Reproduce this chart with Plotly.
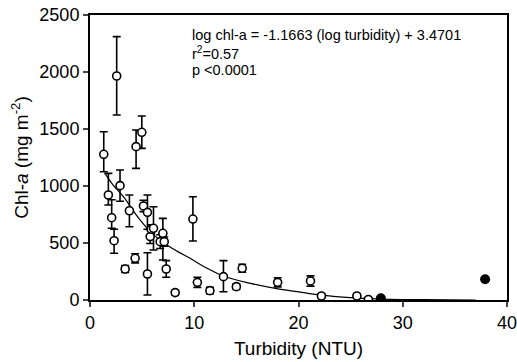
import plotly.graph_objects as go

# Open-circle observations
turbidity = [1.32, 2.56, 1.76, 2.08, 2.31, 2.88, 3.37, 3.78, 4.33, 4.42, 4.97, 5.13, 5.51, 5.51,
             5.77, 5.87, 6.09, 6.73, 6.99, 7.12, 7.31, 8.17, 9.87, 10.3, 11.5, 12.8, 14.04, 14.6,
             18.0, 21.15, 22.2, 25.6, 26.7]
chla = [1278, 1965, 921, 722, 520, 1003, 272, 783, 366, 1345, 1471, 825, 769, 228,
        556, 620, 629, 512, 585, 512, 272, 65, 710, 155, 82, 205, 117, 278,
        155, 167, 35, 35, 5]
err_plus = [198, 345, 190, 158, 100, 137, 30, 138, 40, 146, 143, 50, 152, 187,
            60, 40, 189, 60, 131, 40, 73, 20, 196, 44, 30, 140, 25, 35,
            40, 45, 20, 20, 10]
err_minus = [153, 342, 88, 92, 110, 137, 30, 140, 40, 190, 141, 50, 149, 184,
             60, 40, 191, 60, 234, 40, 73, 20, 192, 44, 30, 132, 25, 35,
             40, 45, 20, 20, 10]

# Filled observations
turb_filled = [27.9, 37.9]
chla_filled = [15, 182]

# Fitted curve
curve_x = [1.44, 2.2, 3.2, 4.8, 6.0, 7.4, 8.5, 9.6, 11.0, 12.8, 15.4, 17.9, 19.9, 21.8, 25.3, 28.0, 32.0, 37.0]
curve_y = [1111, 1010, 906, 702, 580, 482, 420, 366, 290, 210, 146, 100, 73, 48, 18, 8, 3, 0]

x_ticks = [0, 10, 20, 30, 40]
y_ticks = [0, 500, 1000, 1500, 2000, 2500]

stats_lines = ["log chl-a = -1.1663 (log turbidity) + 3.4701",
               "r<sup>2</sup>=0.57",
               "p &lt;0.0001"]

FONT = "Liberation Sans, Arial, sans-serif"

fig = go.Figure()
fig.add_trace(go.Scatter(x=curve_x, y=curve_y, mode="lines",
                         line=dict(color="black", width=1.2, shape="spline"),
                         hoverinfo="skip", showlegend=False))
fig.add_trace(go.Scatter(
    x=turbidity, y=chla, mode="markers",
    marker=dict(symbol="circle", size=8, color="white", line=dict(color="black", width=1.6)),
    error_y=dict(type="data", array=err_plus, arrayminus=err_minus, color="black",
                 thickness=1.6, width=4),
    showlegend=False))
fig.add_trace(go.Scatter(
    x=turb_filled, y=chla_filled, mode="markers",
    marker=dict(symbol="circle", size=10, color="black"),
    showlegend=False))

for txt, yy in zip(stats_lines, [0.930, 0.868, 0.806]):
    fig.add_annotation(
        xref="paper", yref="paper", x=0.24, y=yy, xanchor="left", yanchor="middle",
        align="left", showarrow=False, text=txt,
        font=dict(family=FONT, size=14.5, color="black"))

fig.update_layout(
    width=517, height=362,
    margin=dict(l=90, r=10, t=15, b=62),
    paper_bgcolor="white", plot_bgcolor="white",
    font=dict(family=FONT, color="black"),
    xaxis=dict(range=[0, 40], tickvals=x_ticks, ticks="outside", ticklen=5, tickwidth=1.5,
               showline=True, linecolor="black", linewidth=2, mirror=True, showgrid=False,
               zeroline=False, automargin=False, ticklabeloverflow="allow",
               tickfont=dict(size=18, family=FONT),
               title=dict(text="Turbidity (NTU)", font=dict(size=19, family=FONT), standoff=10)),
    yaxis=dict(range=[0, 2500], tickvals=y_ticks, ticks="outside", ticklen=5, tickwidth=1.5,
               showline=True, linecolor="black", linewidth=2, mirror=True, showgrid=False,
               zeroline=False, automargin=False, ticklabeloverflow="allow",
               tickfont=dict(size=18, family=FONT),
               title=dict(text="Chl-<i>a</i> (mg m<sup>-2</sup>)", font=dict(size=19, family=FONT),
                          standoff=6)),
)

# Remove the page's default body margin so the figure fills the window exactly
fig.write_html("out.html", config={"displayModeBar": False},
               post_script="document.body.style.margin='0px';")
